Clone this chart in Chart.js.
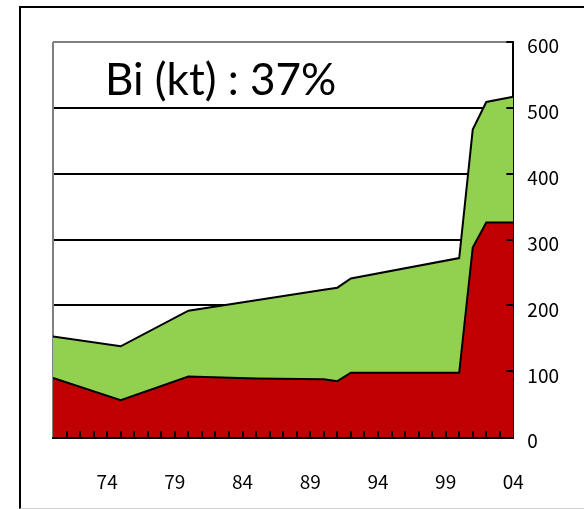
<!DOCTYPE html>
<html>
<head>
<meta charset="utf-8">
<script src="https://cdn.jsdelivr.net/npm/chart.js@4"></script>
<style>
    html, body { margin: 0; padding: 0; background: #fff; }
    #wrap { position: relative; width: 584px; height: 509px; overflow: hidden; }
    #frame {
        position: absolute; left: 19px; top: 6px; width: 620px; height: 500px;
        border-left: 2px solid #000; border-top: 2px solid #000; border-bottom: 1px solid #d0d0d0;
    }
    #chart { position: absolute; left: 0; top: 0; }
    #label {
        position: absolute; left: 105px; top: 56px;
        font-family: Lato, "Open Sans", sans-serif; font-size: 44px; color: #000;
        white-space: nowrap; line-height: 1;
    }
</style>
</head>
<body>
<div id="wrap">
    <div id="frame"></div>
    <canvas id="chart" width="584" height="509"></canvas>
    <div id="label">Bi (kt) : 37%</div>
</div>
<script>
// ============================================================
// Bi production, stacked area (kt)
// ============================================================

// breakpoint years of the series
const years = [1970, 1975, 1980, 1985, 1990, 1991, 1992, 2000, 2001, 2002, 2004];
// lower (red) series
const redValues = [90, 56, 92, 89, 88, 85, 98, 98, 288, 326, 326];
// upper (green) series, stacked on the red one
const greenValues = [63, 82, 100, 119, 136, 142, 143, 174, 179, 183, 191];
// year labels shown under the axis
const yearLabels = [1974, 1979, 1984, 1989, 1994, 1999, 2004];
const yTicks = [0, 100, 200, 300, 400, 500, 600];

const toPoints = (vals) => vals.map((v, i) => ({ x: years[i], y: v }));

// small inward tick marks + gray left edge, like the original
const innerTicks = {
    id: 'innerTicks',
    afterDatasetsDraw(chart) {
        const { ctx, chartArea, scales } = chart;
        ctx.save();
        ctx.strokeStyle = '#000';
        ctx.lineWidth = 2;
        for (let yr = 1971; yr < 2004; yr++) {
            const x = Math.round(scales.x.getPixelForValue(yr));
            ctx.beginPath();
            ctx.moveTo(x, chartArea.bottom);
            ctx.lineTo(x, chartArea.bottom - 6);
            ctx.stroke();
        }
        yTicks.forEach(v => {
            if (v === 0) return;
            const y = Math.round(scales.y.getPixelForValue(v));
            ctx.beginPath();
            ctx.moveTo(chartArea.right, y);
            ctx.lineTo(chartArea.right - 7, y);
            ctx.stroke();
        });
        ctx.restore();
    },
    beforeDatasetsDraw(chart) {
        const { ctx, chartArea } = chart;
        ctx.save();
        ctx.strokeStyle = '#808080';
        ctx.lineWidth = 2;
        ctx.beginPath();
        ctx.moveTo(chartArea.left, chartArea.top);
        ctx.lineTo(chartArea.left, chartArea.bottom);
        ctx.stroke();
        ctx.restore();
    }
};

const ctx = document.getElementById('chart');

new Chart(ctx, {
    type: 'line',
    data: {
        datasets: [{
            data: toPoints(redValues),
            borderColor: '#000',
            backgroundColor: '#C00000',
            borderWidth: 2,
            fill: 'origin',
            pointRadius: 0,
            tension: 0
        }, {
            data: toPoints(greenValues),
            borderColor: '#000',
            backgroundColor: '#92D050',
            borderWidth: 2,
            fill: '-1',
            pointRadius: 0,
            tension: 0
        }]
    },
    options: {
        responsive: false,
        animation: false,
        layout: {
            padding: { left: 53, top: 42, right: 11, bottom: -17 }
        },
        plugins: {
            legend: { display: false },
            tooltip: { enabled: false }
        },
        scales: {
            x: {
                type: 'linear',
                min: 1970,
                max: 2004,
                afterBuildTicks: (axis) => {
                    axis.ticks = yearLabels.map(v => ({ value: v }));
                },
                grid: { drawOnChartArea: false, drawTicks: false },
                border: { display: true, color: '#000', width: 3 },
                ticks: {
                    color: '#000',
                    font: { family: '"Noto Sans CJK JP"', size: 19 },
                    padding: 33,
                    maxRotation: 0,
                    autoSkip: false,
                    callback: (v) => String(v).slice(2)
                }
            },
            y: {
                position: 'right',
                stacked: true,
                min: 0,
                max: 600,
                afterBuildTicks: (axis) => {
                    axis.ticks = yTicks.map(v => ({ value: v }));
                },
                grid: {
                    drawTicks: false,
                    color: (c) => c.tick && c.tick.value === 600 ? '#808080' : '#000',
                    lineWidth: 2
                },
                border: { display: true, color: '#000', width: 2 },
                ticks: {
                    color: '#000',
                    font: { family: '"Noto Sans CJK JP"', size: 19 },
                    padding: 14,
                    labelOffset: 4
                }
            }
        }
    },
    plugins: [innerTicks]
});
</script>
</body>
</html>
